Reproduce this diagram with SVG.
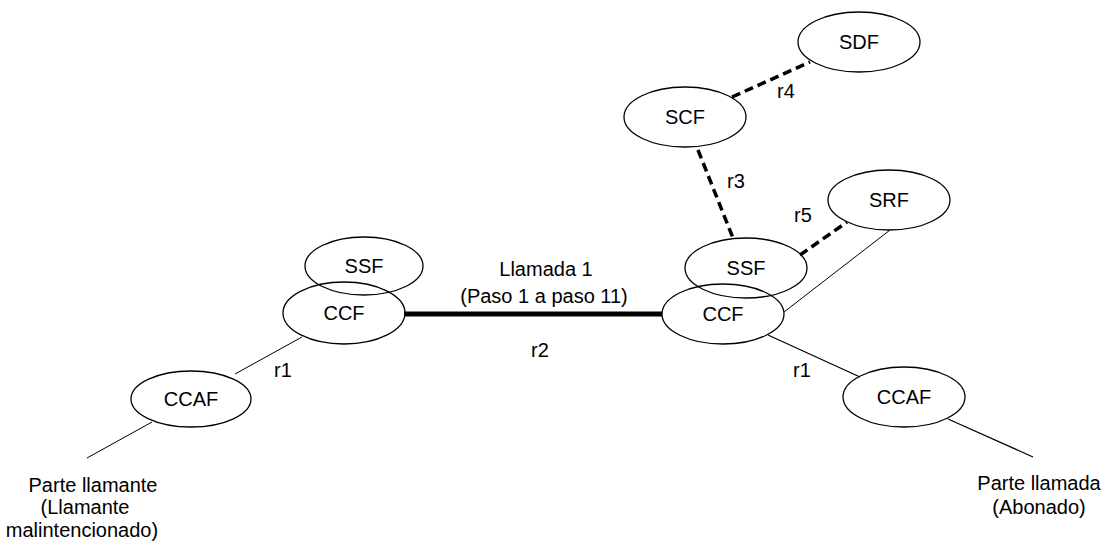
<svg xmlns="http://www.w3.org/2000/svg" width="1108" height="547" viewBox="0 0 1108 547">
<style>
.n ellipse{fill:none;stroke:#000;stroke-width:1.3}
text{font-family:"Liberation Sans",Arial,sans-serif;font-size:20px;fill:#000;text-anchor:middle}
.thin{stroke:#000;stroke-width:1;fill:none}
.dash{stroke:#000;stroke-width:3.5;stroke-dasharray:9 5;fill:none}
.thick{stroke:#000;stroke-width:5;fill:none}
</style>
<rect width="1108" height="547" fill="#fff"/>
<g id="connectors">
<line class="thick" x1="404" y1="314" x2="662" y2="314"/>
<line class="thin" x1="302" y1="337" x2="235" y2="374"/>
<line class="thin" x1="152" y1="422" x2="87" y2="458"/>
<line class="dash" x1="732" y1="97" x2="810" y2="62"/>
<line class="dash" x1="698" y1="150" x2="733" y2="238"/>
<line class="dash" x1="800" y1="255" x2="847" y2="222"/>
<line class="thin" x1="890" y1="230" x2="784" y2="312"/>
<line class="thin" style="stroke-width:1.3" x1="768" y1="335" x2="860" y2="377"/>
<line class="thin" style="stroke-width:1.3" x1="948" y1="419" x2="1033" y2="457"/>
<text x="546" y="276">Llamada 1</text>
<text x="544" y="303">(Paso 1 a paso 11)</text>
<text x="540" y="357">r2</text>
<text x="283" y="377">r1</text>
<text x="802" y="377">r1</text>
<text x="786" y="98">r4</text>
<text x="736" y="188">r3</text>
<text x="803" y="222">r5</text>
</g>
<g id="ssf-left" class="n"><ellipse cx="364" cy="266" rx="59" ry="29"/><text x="364" y="273">SSF</text></g>
<g id="ccf-left" class="n"><ellipse cx="344" cy="313" rx="61" ry="31"/><text x="344" y="320">CCF</text></g>
<g id="ccaf-left" class="n"><ellipse cx="191" cy="399" rx="60" ry="28"/><text x="191" y="406">CCAF</text></g>
<g id="sdf" class="n"><ellipse cx="859" cy="42" rx="61" ry="30"/><text x="859" y="49">SDF</text></g>
<g id="scf" class="n"><ellipse cx="685" cy="117" rx="61" ry="30"/><text x="685" y="124">SCF</text></g>
<g id="srf" class="n"><ellipse cx="889" cy="200" rx="61" ry="30"/><text x="889" y="207">SRF</text></g>
<g id="ssf-right" class="n"><ellipse cx="746" cy="268" rx="61" ry="30"/><text x="746" y="275">SSF</text></g>
<g id="ccf-right" class="n"><ellipse cx="723" cy="314" rx="61" ry="30"/><text x="723" y="321">CCF</text></g>
<g id="ccaf-right" class="n"><ellipse cx="904" cy="397" rx="61" ry="30"/><text x="904" y="404">CCAF</text></g>
<g id="calling-party">
<text x="93" y="492">Parte llamante</text>
<text x="85" y="514">(Llamante</text>
<text x="82" y="537">malintencionado)</text>
</g>
<g id="called-party">
<text x="1039" y="490">Parte llamada</text>
<text x="1039" y="514">(Abonado)</text>
</g>
</svg>
